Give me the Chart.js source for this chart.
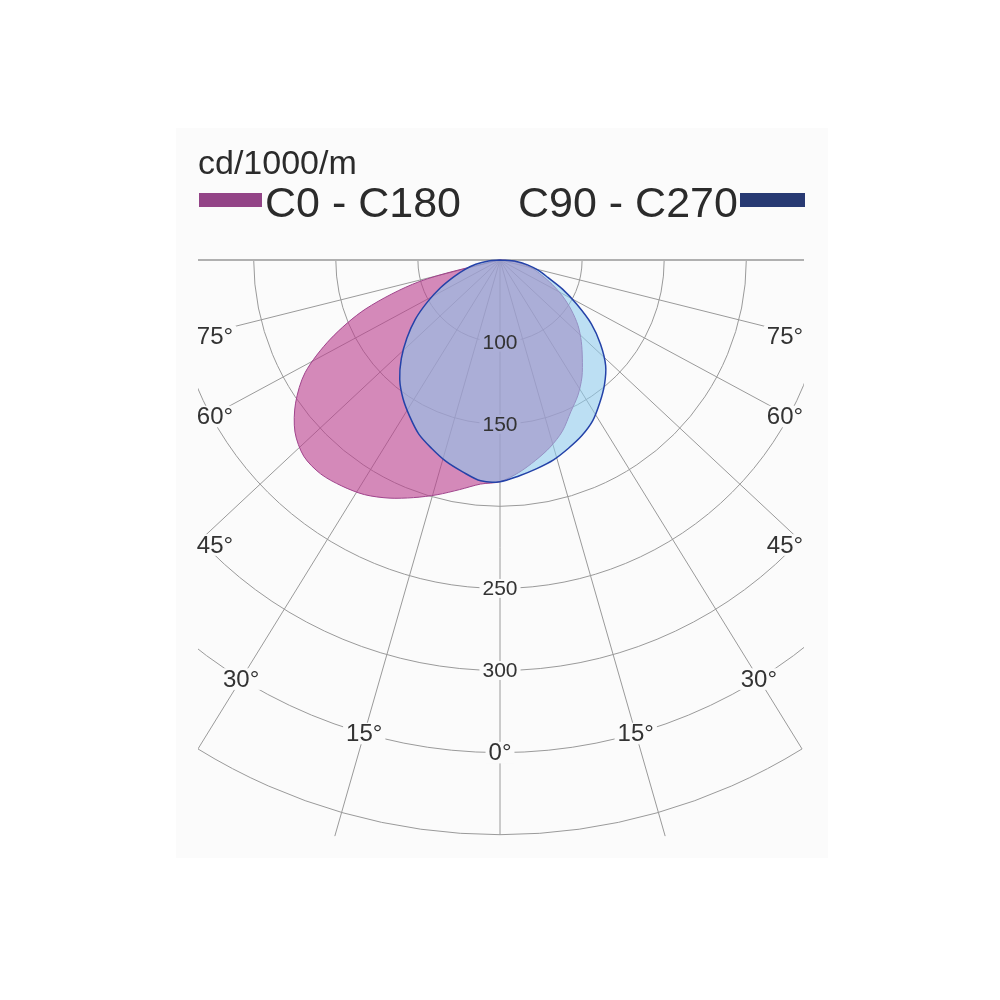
<!DOCTYPE html>
<html>
<head>
<meta charset="utf-8">
<script src="https://cdn.jsdelivr.net/npm/chart.js@4.4.1/dist/chart.umd.min.js"></script>
<style>
  body { margin: 0; background: #fff; }
  #wrap { position: relative; width: 1000px; height: 1000px; font-family: "Liberation Sans", Arial, sans-serif; color: #2b2b2b; }
  #wrap canvas { position: absolute; left: 0; top: 0; }
  .txt { position: absolute; line-height: 1; white-space: nowrap; }
  .bar { position: absolute; height: 14px; }
</style>
</head>
<body>
<div id="wrap">
  <canvas id="polar" width="1000" height="1000"></canvas>
  <div class="txt" style="left:198px;top:145px;font-size:34px">cd/1000/m</div>
  <div class="bar" style="left:199px;top:193px;width:63px;background:#934487"></div>
  <div class="txt" style="left:265px;top:181px;font-size:43px">C0 - C180</div>
  <div class="txt" style="left:518px;top:181px;font-size:43px">C90 - C270</div>
  <div class="bar" style="left:740px;top:193px;width:65px;background:#283a73"></div>
</div>
<script>
// gamma angles (0 = straight down), one value per angle, cd/1000lm
const angles = [-90,-85,-80,-75,-70,-65,-60,-55,-50,-45,-40,-35,-30,-25,-20,-15,-10,-5,0,
                5,10,15,20,25,30,35,40,45,50,55,60,65,70,75,80,85,90]
const c0c180 = [50,50,54,101,137,164,187,202,213,219,220,218,215,210,204,198,192,187,185,
                180,174,168,161,152,145,137,128,120,112,103,94,85,77,71,64,57,50]
const c90c270 = [50,57,65,72,80,90,101,113,124,135,145,153,160,167,172,177,181,185,185,
                 182,179,176,172,168,163,156,149,141,130,118,104,92,81,74,67,60,50]

// polar grid
const ringBase = 50
const rings = [100,150,200,250,300,350,400]
const ringLabels = [100,150,250,300]
const angleTicks = [0,15,30,45,60,75,90]
const angleLabels = ['0°','15°','30°','45°','60°','75°']

const PANEL = '#fbfbfb'
const SKEW = 1.07

const toXY = (vals) => vals.map((v, i) => {
  const a = angles[i] * Math.PI / 180
  const d = v - ringBase
  return {x: d * Math.sin(a), y: -d * Math.cos(a)}
})

// direction of a grid spoke as it is drawn (slightly widened)
const spokeAngle = (deg) => deg >= 90 ? Math.PI / 2 : Math.atan(SKEW * Math.tan(deg * Math.PI / 180))

const polarGrid = {
  id: 'polarGrid',
  beforeDraw(chart) {
    const ctx = chart.ctx
    ctx.save()
    ctx.fillStyle = PANEL
    ctx.fillRect(176, 128, 652, 730)
    ctx.restore()
  },
  beforeDatasetsDraw(chart) {
    const ctx = chart.ctx
    const xs = chart.scales.x, ys = chart.scales.y
    const cx = xs.getPixelForValue(0), cy = ys.getPixelForValue(0)
    const unit = xs.getPixelForValue(1) - cx
    const rad = v => (v - ringBase) * unit

    ctx.save()
    ctx.beginPath()
    ctx.rect(cx - 302, cy - 1, 606, 620)
    ctx.clip()
    ctx.strokeStyle = '#9a9a9a'
    ctx.lineWidth = 1

    // rings
    rings.forEach(v => {
      ctx.beginPath()
      if (v === rings[rings.length - 1]) {
        const e = spokeAngle(30)
        ctx.arc(cx, cy, rad(v), Math.PI / 2 - e, Math.PI / 2 + e)
      } else {
        ctx.arc(cx, cy, rad(v), 0, Math.PI * 2)
      }
      ctx.stroke()
    })

    // spokes
    angleTicks.forEach(deg => {
      const a = spokeAngle(deg)
      let len = rad(430)
      if (deg === 0 || deg === 30) len = rad(400)
      if (deg === 15) len = rad(415)
      const sides = deg === 0 ? [1] : [-1, 1]
      sides.forEach(s => {
        ctx.beginPath()
        ctx.moveTo(cx, cy)
        ctx.lineTo(cx + s * len * Math.sin(a), cy + len * Math.cos(a))
        if (deg === 90) { ctx.strokeStyle = '#b0b0b0'; ctx.lineWidth = 2 }
        ctx.stroke()
      })
    })
    ctx.restore()

    // gaps behind labels
    ctx.save()
    this._labels(chart).forEach(l => {
      ctx.font = l.size + 'px "Liberation Sans", Arial, sans-serif'
      const w = ctx.measureText(l.text).width
      ctx.fillStyle = PANEL
      ctx.fillRect(l.x - w / 2 - 3, l.y - l.size * 0.45, w + 6, l.size * 0.9)
    })
    ctx.restore()
  },
  afterDatasetsDraw(chart) {
    const ctx = chart.ctx
    ctx.save()
    ctx.fillStyle = '#333'
    ctx.textAlign = 'center'
    ctx.textBaseline = 'middle'
    this._labels(chart).forEach(l => {
      ctx.font = l.size + 'px "Liberation Sans", Arial, sans-serif'
      ctx.fillText(l.text, l.x, l.y + 1)
    })
    ctx.restore()
  },
  _labels(chart) {
    const xs = chart.scales.x, ys = chart.scales.y
    const cx = xs.getPixelForValue(0), cy = ys.getPixelForValue(0)
    const unit = xs.getPixelForValue(1) - cx
    const out = []
    ringLabels.forEach(v => out.push({text: String(v), x: cx, y: cy + (v - ringBase) * unit, size: 21}))
    const r = (350 - ringBase) * unit
    angleLabels.forEach((t, i) => {
      const deg = angleTicks[i]
      if (deg <= 30) {
        const a = spokeAngle(deg)
        const sides = deg === 0 ? [1] : [-1, 1]
        sides.forEach(s => out.push({text: t, x: cx + s * r * Math.sin(a), y: cy + r * Math.cos(a), size: 24}))
      } else {
        const dx = 285
        const dy = dx / Math.tan(deg * Math.PI / 180) - (deg === 60 ? 8 : 0)
        ;[-1, 1].forEach(s => out.push({text: t, x: cx + s * dx, y: cy + dy, size: 24}))
      }
    })
    return out
  }
}

const pxPerUnit = 82.1 / 50
new Chart(document.getElementById('polar'), {
  type: 'scatter',
  data: {
    datasets: [
      {
        label: 'C90 - C270',
        data: toXY(c90c270),
        showLine: true,
        fill: 'shape',
        tension: 0.3,
        pointRadius: 0,
        borderColor: '#2442a8',
        borderWidth: 1.5,
        backgroundColor: 'rgba(141,202,237,0.57)',
        order: 1
      },
      {
        label: 'C0 - C180',
        data: toXY(c0c180),
        showLine: true,
        fill: 'shape',
        tension: 0.3,
        pointRadius: 0,
        borderColor: '#a0448c',
        borderWidth: 1,
        backgroundColor: 'rgba(186,62,142,0.6)',
        order: 2
      }
    ]
  },
  options: {
    responsive: false,
    animation: false,
    devicePixelRatio: 1,
    layout: {padding: 0},
    plugins: {legend: {display: false}, tooltip: {enabled: false}},
    scales: {
      x: {display: false, min: -500 / pxPerUnit, max: 500 / pxPerUnit},
      y: {display: false, min: -740 / pxPerUnit, max: 260 / pxPerUnit}
    }
  },
  plugins: [polarGrid]
})
</script>
</body>
</html>
